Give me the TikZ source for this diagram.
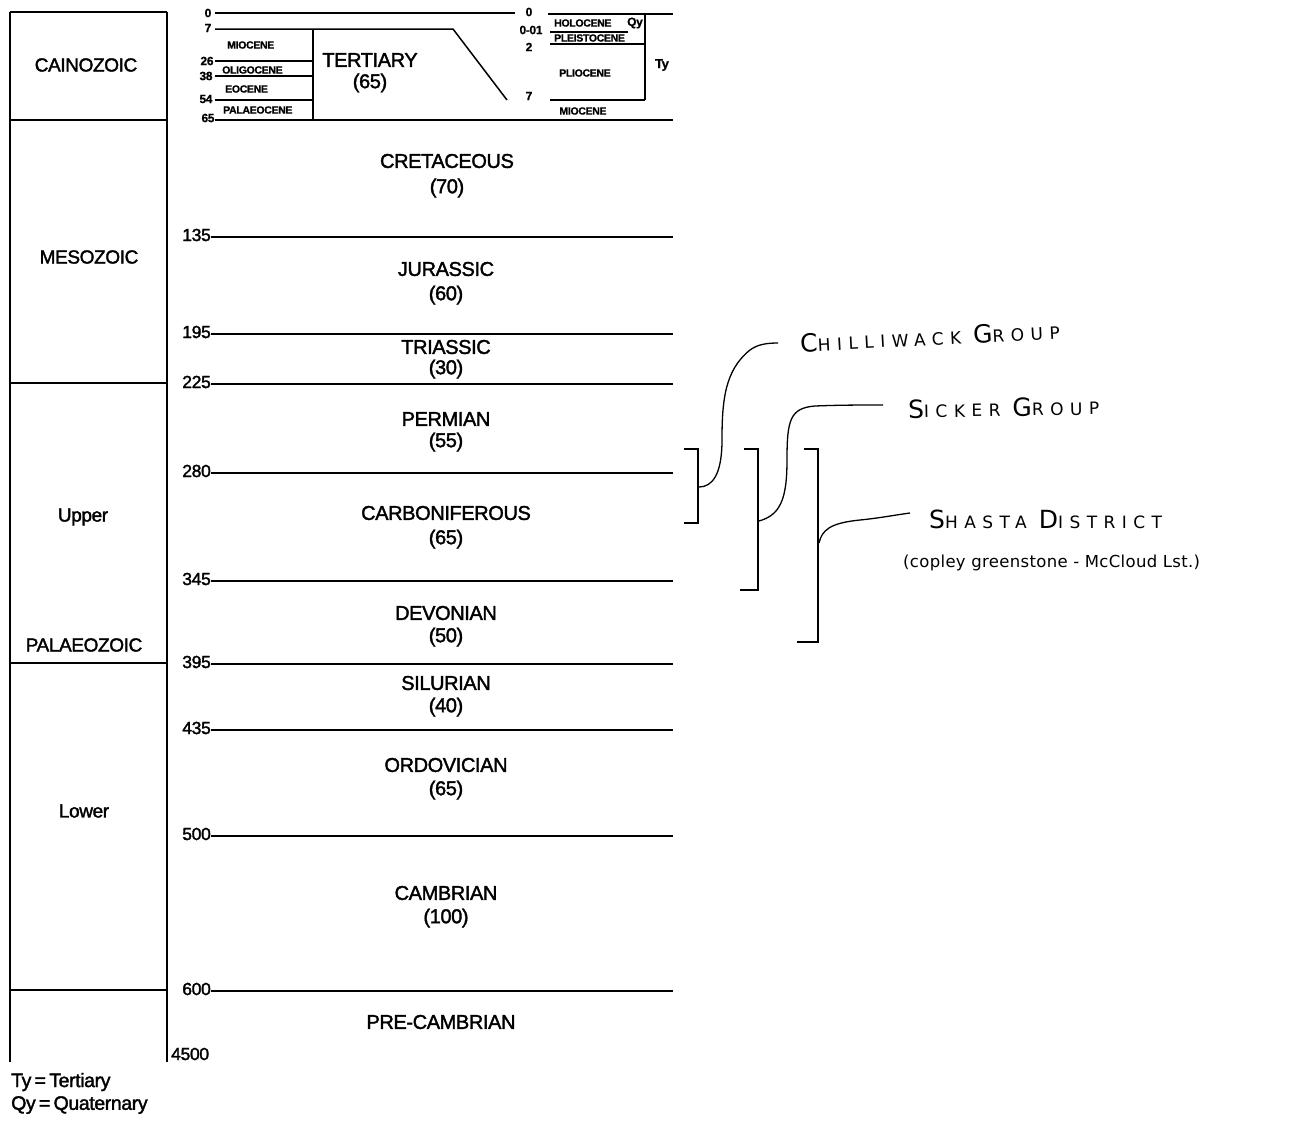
\documentclass[tikz,border=0pt]{standalone}
\usepackage{fontspec}
\setmainfont{Liberation Sans}
\newfontfamily\cf{Liberation Sans}[FakeBold=1.8,LetterSpace=-2]
\newfontfamily\cfs{Liberation Sans Bold}[FakeBold=0.8,LetterSpace=-3]
\newfontfamily\handfont{DejaVu Sans}[LetterSpace=38]
\newfontfamily\handfontb{DejaVu Sans}[LetterSpace=2]
\newcommand\hbig[1]{{\fontsize{25}{25}\selectfont #1}}
\newcommand\hsml[1]{{\fontsize{17}{17}\selectfont #1}}
\begin{document}
\begin{tikzpicture}[x=1pt,y=-1pt,
  rule/.style={line width=1.5pt},
  bracketline/.style={line width=1.6pt},
  lead/.style={line width=1.3pt},
  era/.style={font=\cf\fontsize{19}{21}\selectfont, inner sep=0pt},
  period/.style={font=\cf\fontsize{20}{22}\selectfont, inner sep=0pt},
  age/.style={font=\cf\fontsize{17.5}{19}\selectfont, inner sep=0pt, anchor=east},
  sage/.style={font=\cfs\fontsize{12}{13}\selectfont, inner sep=0pt},
  sub/.style={font=\cfs\fontsize{10.5}{12}\selectfont, inner sep=0pt},
  hand/.style={font=\handfont, inner sep=0pt, anchor=west},
  legend/.style={font=\cf\fontsize{19.5}{21}\selectfont, inner sep=0pt, anchor=west}]
\useasboundingbox (0,0) rectangle (1315,1122);
% left column
\draw[rule] (10,12) -- (10,1062);
\draw[rule] (167,12) -- (167,1062);
\foreach \y in {12,120,383,663,990} \draw[rule] (10,\y) -- (167,\y);
\node[era] (cain) at (86,65) {CAINOZOIC};
\node[era] (meso) at (89,257) {MESOZOIC};
\node[era] (upper) at (83,517) {Upper};
\node[era] (palaeo) at (84,645) {PALAEOZOIC};
\node[era] (lower) at (84,811) {Lower};
% top (Tertiary) block
\node[sage] (a0) at (208,13) {0};
\node[sage] (a7) at (208,28) {7};
\node[sage] (a26) at (207,61) {26};
\node[sage] (a38) at (206,76) {38};
\node[sage] (a54) at (206,99) {54};
\node[sage] (a65) at (208,118) {65};
\draw[rule] (215,13) -- (515,13);
\draw[rule] (215,29) -- (453,29) -- (507,100);
\draw[rule] (313,29) -- (313,120);
\draw[rule] (215,61) -- (313,61);
\draw[rule] (215,76) -- (313,76);
\draw[rule] (215,100) -- (313,100);
\draw[rule] (215,120) -- (673,120);
\node[sub,anchor=west] (mio1) at (227,45) {MIOCENE};
\node[sub,anchor=west] (oli) at (222,70) {OLIGOCENE};
\node[sub,anchor=west] (eoc) at (225,89) {EOCENE};
\node[sub,anchor=west] (pal) at (223,110) {PALAEOCENE};
\node[period] (tert) at (370,60) {TERTIARY};
\node[period] (tertn) at (370,83) {(65)};
% right small box
\node[sage] (b0) at (529,12) {0};
\node[sage] (b001) at (531,30) {0-01};
\node[sage] (b2) at (529,47) {2};
\node[sage] (b7) at (529,96) {7};
\draw[rule] (548,14) -- (673,14);
\draw[rule] (550,32) -- (628,32);
\draw[rule] (550,44) -- (645,44);
\draw[rule] (550,100) -- (645,100);
\draw[rule] (645,14) -- (645,100);
\node[sub,anchor=west] (holo) at (554,23) {HOLOCENE};
\node[sage] (qy) at (635,23) {Qy};
\node[sub,anchor=west] (pleis) at (554,38) {PLEISTOCENE};
\node[sub] (plio) at (585,73) {PLIOCENE};
\node[sub] (mio2) at (583,111) {MIOCENE};
\node[font=\cfs\fontsize{13}{14}\selectfont,inner sep=0pt] (ty) at (662,65) {Ty};
% main time scale
\foreach \n/\y in {135/237,195/334,225/384,280/473,345/581,395/664,435/730,500/836,600/991}{
  \node[age] (t\n) at (211,\y-2) {\n};
  \draw[rule] (t\n.east |- 0,\y) -- (673,\y);
}
\draw[rule] (167,1040) -- (167,1062);
\node[age,anchor=west] (t4500) at (171,1054) {4500};
% period labels
\node[period] (cre) at (447,161) {CRETACEOUS};
\node[period] (cren) at (447,188) {(70)};
\node[period] (jur) at (446,269) {JURASSIC};
\node[period] (jurn) at (446,295) {(60)};
\node[period] (tri) at (446,347) {TRIASSIC};
\node[period] (trin) at (446,369) {(30)};
\node[period] (per) at (446,419) {PERMIAN};
\node[period] (pern) at (446,442) {(55)};
\node[period] (car) at (446,513) {CARBONIFEROUS};
\node[period] (carn) at (446,539) {(65)};
\node[period] (dev) at (446,613) {DEVONIAN};
\node[period] (devn) at (446,637) {(50)};
\node[period] (sil) at (446,683) {SILURIAN};
\node[period] (siln) at (446,707) {(40)};
\node[period] (ord) at (446,765) {ORDOVICIAN};
\node[period] (ordn) at (446,790) {(65)};
\node[period] (cam) at (446,893) {CAMBRIAN};
\node[period] (camn) at (446,918) {(100)};
\node[period] (pre) at (441,1022) {PRE-CAMBRIAN};
% legend
\node[legend] (lg1) at (11,1082) {Ty\,=\,Tertiary};
\node[legend] (lg2) at (11,1105) {Qy\,=\,Quaternary};
% brackets (hand drawn)
\draw[bracketline] (684,449) -- (698,449) -- (698,523) -- (684,523);
\draw[bracketline] (744,449) -- (758,449) -- (758,590) -- (740,590);
\draw[bracketline] (804,449) -- (818,449) -- (818,642) -- (797,642);
\coordinate (c1) at (699,487);
\coordinate (c2) at (759,521);
\coordinate (c3) at (819,543);
\node[hand,rotate=3] (chil) at (800,343) {\hbig{C}\hsml{HILLIWACK}\hspace{12pt}\hbig{G}\hsml{ROUP}};
\node[hand,rotate=1] (sick) at (908,409) {\hbig{S}\hsml{ICKER}\hspace{12pt}\hbig{G}\hsml{ROUP}};
\node[hand] (shas) at (929,519) {\hbig{S}\hsml{HASTA}\hspace{12pt}\hbig{D}\hsml{ISTRICT}};
\node[hand,font=\handfontb\fontsize{16.5}{17}\selectfont,anchor=west] (cop) at (903,563) {(copley greenstone - McCloud Lst.)};
\draw[lead] (c1) .. controls (712,487) and (722,475) .. (722,440)
  .. controls (722,400) and (725,370) .. (750,350) .. controls (758,344) and (768,343) .. (778,343);
\draw[lead] (c2) .. controls (780,515) and (787,500) .. (787,460)
  .. controls (787,420) and (790,408) .. (815,406) .. controls (840,405) and (860,405) .. (883,405);
\draw[lead] (c3) .. controls (822,530) and (830,523) .. (860,520) .. controls (880,518) and (895,515) .. (910,513);
\end{tikzpicture}
\end{document}
